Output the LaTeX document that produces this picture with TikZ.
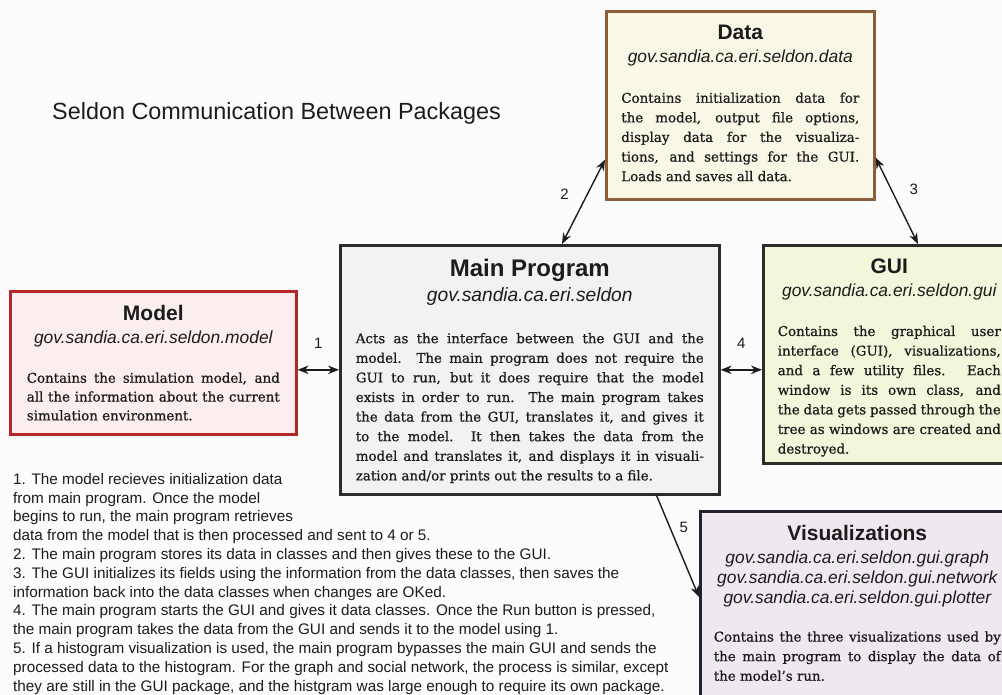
\documentclass[tikz,border=0pt]{standalone}
\usepackage{fontspec}
\usepackage{tikz}
\usetikzlibrary{arrows.meta,positioning}
\setmainfont{Liberation Sans}
\newfontfamily\boxserif[FakeBold=0.8]{DejaVu Serif}

\definecolor{pagebg}{HTML}{FCFCFC}
\definecolor{inkcol}{HTML}{1C1C1C}
\definecolor{modelbg}{HTML}{FBEEEE}
\definecolor{modelline}{HTML}{B3262A}
\definecolor{databg}{HTML}{FBF7E6}
\definecolor{dataline}{HTML}{8B5E3C}
\definecolor{mainbg}{HTML}{F4F2F0}
\definecolor{mainline}{HTML}{2B2B2B}
\definecolor{guibg}{HTML}{F2F6DA}
\definecolor{guiline}{HTML}{2A2F2A}
\definecolor{visbg}{HTML}{EFE8EF}
\definecolor{visline}{HTML}{22222E}

\newcommand{\pkgtitle}{\normalfont\bfseries\fontsize{21}{23}\selectfont}
\newcommand{\maintitle}{\normalfont\bfseries\fontsize{24}{25}\selectfont}
\newcommand{\pkgname}{\normalfont\itshape\fontsize{17.4}{23}\selectfont}
\newcommand{\mainname}{\normalfont\itshape\fontsize{19.2}{25}\selectfont}
\newcommand{\bodyfnt}{\normalfont\boxserif\fontsize{13.4}{19.6}\selectfont}
\newcommand{\notefnt}{\fontsize{15.3}{18.8}\selectfont}

\newcommand{\textblock}[2]{\vbox{\hsize=#1pt\relax #2}}
\newcommand{\midrow}[1]{\hbox to\hsize{\hfil#1\hfil}}
\newcommand{\fullrow}[1]{\hbox to\hsize{#1}}
\newcommand{\lastrow}[1]{\hbox{#1}}

\begin{document}
\begin{tikzpicture}[
        x=1pt, y=-1pt,
        pkgbox/.style={draw, line width=2.6pt, inner sep=0pt, anchor=north west},
        pkgtext/.style={anchor=north, inner sep=0pt, text=inkcol},
        link/.style={line width=1.4pt, draw=inkcol, <->, >={Stealth[length=11pt,width=8.5pt]}},
        numlabel/.style={font=\fontsize{15}{15}\selectfont, text=inkcol, inner sep=0pt}
    ]
        \fill[pagebg] (0,0) rectangle (1002,695);
        \useasboundingbox (0,0) rectangle (1002,695);
        \clip (0,0) rectangle (1002,695);

        % Title
        \node[anchor=base west, inner sep=0pt, font=\fontsize{23.4}{23}\selectfont, text=inkcol] (title) at (52,120) {Seldon Communication Between Packages};

        % Package boxes
        \node[pkgbox, draw=modelline, fill=modelbg, minimum width=286, minimum height=143] (model) at (9,290) {};
        \node[pkgbox, draw=dataline, fill=databg, minimum width=268, minimum height=188] (data) at (605,10) {};
        \node[pkgbox, draw=mainline, fill=mainbg, minimum width=379, minimum height=249] (main) at (339,244) {};
        \node[pkgbox, draw=guiline, fill=guibg, minimum width=252, minimum height=218] (gui) at (762,244) {};
        \node[pkgbox, draw=visline, fill=visbg, minimum width=314, minimum height=210] (vis) at (699,510) {};

        % Box texts
        \node[pkgtext] (model text) at ([yshift=-15pt]model.north) {\textblock{253}{%
            \pkgtitle\midrow{Model}
            \pkgname\midrow{gov.sandia.ca.eri.seldon.model}
            \vskip20.5pt
            \bodyfnt\baselineskip=18.8pt
            \fullrow{Contains the simulation model, and}
            \fullrow{all the information about the current}
            \lastrow{simulation environment.}}};
        \node[pkgtext] (data text) at ([yshift=-15pt]data.north) {\textblock{238}{%
            \pkgtitle\midrow{Data}
            \pkgname\midrow{gov.sandia.ca.eri.seldon.data}
            \vskip20.5pt
            \bodyfnt
            \fullrow{Contains initialization data for}
            \fullrow{the model, output file options,}
            \fullrow{display data for the visualiza-}
            \fullrow{tions, and settings for the GUI.}
            \lastrow{Loads and saves all data.}}};
        \node[pkgtext] (main text) at ([yshift=-15pt]main.north) {\textblock{348}{%
            \maintitle\midrow{Main Program}
            \mainname\midrow{gov.sandia.ca.eri.seldon}
            \vskip22pt
            \bodyfnt
            \fullrow{Acts as the interface between the GUI and the}
            \fullrow{model.  The main program does not require the}
            \fullrow{GUI to run, but it does require that the model}
            \fullrow{exists in order to run.  The main program takes}
            \fullrow{the data from the GUI, translates it, and gives it}
            \fullrow{to the model.  It then takes the data from the}
            \fullrow{model and translates it, and displays it in visuali-}
            \lastrow{zation and/or prints out the results to a file.}}};
        \node[pkgtext] (gui text) at ([yshift=-15pt]gui.north) {\textblock{223}{%
            \pkgtitle\midrow{GUI}
            \pkgname\midrow{gov.sandia.ca.eri.seldon.gui}
            \vskip19.5pt
            \bodyfnt
            \fullrow{Contains the graphical user}
            \fullrow{interface (GUI), visualizations,}
            \fullrow{and a few utility files.  Each}
            \fullrow{window is its own class, and}
            \fullrow{the data gets passed through the}
            \fullrow{tree as windows are created and}
            \lastrow{destroyed.}}};
        \node[pkgtext] (vis text) at ([yshift=-15pt]vis.north) {\textblock{287}{%
            \pkgtitle\midrow{Visualizations}
            \pkgname\midrow{gov.sandia.ca.eri.seldon.gui.graph}
            \baselineskip=20pt
            \midrow{gov.sandia.ca.eri.seldon.gui.network}
            \midrow{gov.sandia.ca.eri.seldon.gui.plotter}
            \vskip18.5pt
            \bodyfnt
            \fullrow{Contains the three visualizations used by}
            \fullrow{the main program to display the data of}
            \lastrow{the model’s run.}}};

        % Notes
        \node[anchor=north west, inner sep=0pt, align=left, font=\notefnt, text=inkcol] (notes) at (13,473) {%
            1. The model recieves initialization data\\
            from main program.  Once the model\\
            begins to run, the main program retrieves\\
            data from the model that is then processed and sent to 4 or 5.\\
            2. The main program stores its data in classes and then gives these to the GUI.\\
            3. The GUI initializes its fields using the information from the data classes, then saves the\\
            information back into the data classes when changes are OKed.\\
            4. The main program starts the GUI and gives it data classes.  Once the Run button is pressed,\\
            the main program takes the data from the GUI and sends it to the model using 1.\\
            5. If a histogram visualization is used, the main program bypasses the main GUI and sends the\\
            processed data to the histogram.  For the graph and social network, the process is similar, except\\
            they are still in the GUI package, and the histgram was large enough to require its own package.};

        % Connections
        \draw[link] (main.west -| model.east) -- node[numlabel, yshift=26pt] (lab1) {1} (main.west);
        \draw[link] ([xshift=223pt]main.north west) -- node[numlabel, xshift=-19pt, yshift=8pt] (lab2) {2} ([yshift=41pt]data.south west);
        \draw[link] ([yshift=43pt]data.south east) -- node[numlabel, xshift=17pt, yshift=11pt] (lab3) {3} ([xshift=156pt]gui.north west);
        \draw[link] (main.east) -- node[numlabel, yshift=26pt] (lab4) {4} (main.east -| gui.west);
        \draw[link, ->] ([xshift=-64pt]main.south east) -- node[numlabel, xshift=6pt, yshift=19pt] (lab5) {5} ([yshift=-87pt]vis.north west);
    \end{tikzpicture}
\end{document}
